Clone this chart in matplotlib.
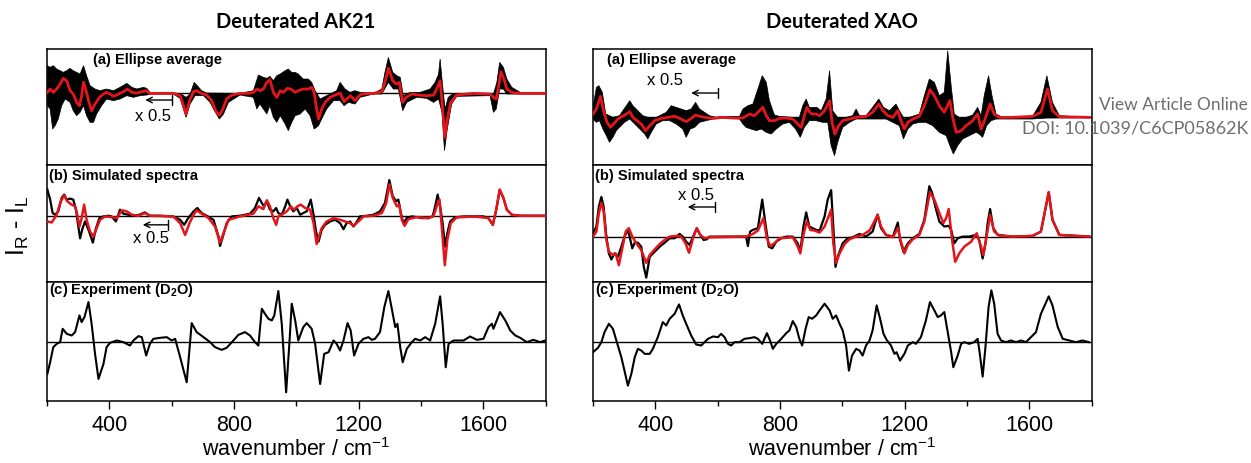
import matplotlib
import numpy as np

matplotlib.use("Agg")
import matplotlib.pyplot as plt
from matplotlib.ticker import MultipleLocator

plt.rcParams["font.family"] = ["Liberation Sans", "DejaVu Sans"]
plt.rcParams["mathtext.fontset"] = "custom"
plt.rcParams["mathtext.rm"] = "Liberation Sans"
plt.rcParams["mathtext.bf"] = "Liberation Sans:bold"

TITLE_FONT = ["Lato", "Liberation Sans"]
RED = "#e3151b"

# ---- Deuterated AK21 (wavenumber, intensity in arbitrary units) ----
ak21_ell_mean = [(201, 3), (210, 13), (220, 3), (231, 13), (242, 28), (252, 45), (263, 38), (274, 8), (284, -2),
                 (295, -27), (304, -37), (311, -7), (317, 33), (324, 13), (333, -22), (343, -52), (354, -32),
                 (368, -12), (381, -2), (391, 3), (402, -2), (413, -9), (429, -2), (445, 5), (458, 13), (472, 3),
                 (488, 1), (504, 5), (518, 8), (530, 0), (605, 0), (627, -7), (646, -62), (659, -17), (670, 5),
                 (680, 8), (693, 1), (712, -5), (728, -22), (742, -55), (753, -65), (764, -47), (776, -17),
                 (793, -5), (819, 0), (846, 0), (862, 3), (873, 13), (883, 8), (894, 13), (905, 33), (915, 41),
                 (926, 3), (937, -12), (948, 8), (958, 3), (971, 15), (982, 13), (996, 3), (1006, 8), (1022, 13),
                 (1038, 13), (1049, 18), (1057, 3), (1063, -37), (1071, -77), (1081, -47), (1092, -27),
                 (1108, -12), (1124, -5), (1140, 1), (1153, -25), (1164, -15), (1174, -7), (1188, -22),
                 (1199, -9), (1210, -2), (1247, 0), (1274, 5), (1284, 33), (1295, 75), (1309, 38), (1320, 28),
                 (1330, 33), (1341, -27), (1352, -12), (1370, -2), (1391, -5), (1418, -7), (1440, -5), (1450, 13),
                 (1461, 38), (1469, -47), (1476, -132), (1484, -77), (1495, -27), (1514, -5), (1568, 0),
                 (1621, -2), (1632, -12), (1641, -17), (1649, 23), (1656, 65), (1666, 43), (1675, 13), (1691, 3),
                 (1718, 0), (1798, 0)]
ak21_ell_hi = [(201, 83), (210, 78), (220, 83), (231, 73), (242, 68), (252, 63), (263, 68), (274, 75), (284, 68),
               (295, 63), (306, 58), (317, 83), (327, 53), (338, 23), (354, 13), (370, 8), (391, 13), (413, 8),
               (434, 18), (456, 30), (472, 18), (488, 13), (509, 18), (520, 15), (530, 3), (605, 1), (627, 0),
               (646, -12), (659, -2), (672, 33), (682, 23), (696, 8), (712, 1), (819, 0), (862, 8), (878, 55),
               (894, 48), (905, 45), (915, 51), (926, 38), (937, 53), (948, 58), (964, 68), (974, 73), (985, 63),
               (996, 63), (1006, 58), (1022, 43), (1038, 43), (1049, 33), (1060, 8), (1076, -17), (1097, -7),
               (1129, 8), (1140, 33), (1156, 13), (1172, 3), (1188, 8), (1204, 3), (1247, 0), (1274, 13),
               (1284, 63), (1295, 108), (1309, 63), (1322, 53), (1333, 48), (1343, -7), (1365, 3), (1397, 3),
               (1429, 13), (1445, 33), (1456, 58), (1461, 103), (1469, 23), (1477, -47), (1487, -12), (1504, 0),
               (1621, 0), (1632, -2), (1643, 33), (1652, 93), (1664, 78), (1675, 43), (1691, 18), (1718, 3),
               (1798, 0)]
ak21_ell_lo = [(201, -37), (210, -47), (218, -107), (226, -97), (236, -77), (247, -37), (258, -17), (274, -27),
               (284, -52), (295, -67), (306, -57), (317, -37), (327, -67), (338, -87), (349, -87), (359, -62),
               (375, -37), (391, -17), (413, -22), (434, -17), (456, -7), (477, -12), (498, -7), (520, -5),
               (530, -2), (605, -2), (627, -15), (646, -72), (659, -32), (675, -7), (702, -7), (723, -27),
               (734, -47), (753, -77), (766, -62), (782, -27), (819, -5), (862, -12), (873, -47), (883, -32),
               (894, -47), (905, -62), (915, -37), (926, -72), (937, -87), (948, -67), (964, -92), (974, -112),
               (985, -87), (996, -67), (1012, -62), (1028, -47), (1044, -67), (1057, -107), (1071, -97),
               (1081, -77), (1097, -47), (1119, -22), (1140, -22), (1153, -37), (1167, -27), (1188, -32),
               (1204, -12), (1247, -2), (1274, -2), (1295, 33), (1311, 13), (1327, 13), (1341, -52), (1354, -27),
               (1386, -12), (1418, -15), (1440, -27), (1456, -17), (1467, -57), (1475, -172), (1484, -107),
               (1498, -32), (1514, -9), (1621, -7), (1632, -57), (1641, -47), (1652, 13), (1664, 13), (1675, -2),
               (1718, -2), (1798, -2)]
ak21_sim_calc = [(201, 78), (210, 48), (218, 8), (226, 3), (236, 13), (247, 53), (255, 63), (263, 48), (274, 51),
                 (284, 48), (293, 18), (298, -17), (306, -67), (314, -37), (322, -17), (333, -42), (347, -80),
                 (357, -37), (368, -7), (381, -2), (397, 0), (407, -2), (421, -17), (434, 18), (445, 6), (461, 3),
                 (477, 0), (493, 2), (514, 10), (530, 0), (563, 0), (605, -2), (627, -12), (640, -27), (653, -7),
                 (670, 13), (682, 23), (696, 8), (712, 0), (734, -12), (750, -62), (755, -90), (764, -62),
                 (776, -22), (793, -2), (819, 0), (851, 6), (867, 23), (880, 53), (889, 38), (896, 28), (905, 43),
                 (915, 18), (926, 13), (935, 23), (942, 8), (953, 3), (964, 28), (971, 48), (980, 28), (990, 13),
                 (1001, 23), (1012, 3), (1022, 8), (1033, 13), (1046, 48), (1055, 3), (1063, -47), (1071, -77),
                 (1081, -42), (1092, -27), (1108, -17), (1124, -12), (1140, -22), (1151, -40), (1161, -22),
                 (1172, -17), (1183, -32), (1194, -17), (1204, -2), (1226, 0), (1247, 3), (1268, 13), (1284, 38),
                 (1298, 106), (1309, 58), (1320, 43), (1327, 48), (1335, 8), (1343, -22), (1354, -7), (1370, -2),
                 (1386, -4), (1402, -7), (1424, -7), (1437, -2), (1445, 28), (1453, 63), (1461, 28), (1469, -22),
                 (1477, -92), (1484, -52), (1493, -17), (1509, -5), (1536, -2), (1568, -2), (1600, -2),
                 (1616, -7), (1630, -27), (1641, 18), (1652, 76), (1664, 53), (1675, 18), (1691, 3), (1718, 0),
                 (1798, 0)]
ak21_sim_red = [(201, -17), (215, -20), (231, 3), (244, 43), (255, 60), (265, 43), (279, 33), (290, 28), (297, 3),
                (304, -32), (311, -7), (319, 33), (327, -12), (338, -47), (349, -62), (359, -37), (370, -12),
                (386, -2), (407, -4), (424, -7), (440, 16), (456, 13), (472, 3), (493, 0), (514, 8), (530, 0),
                (605, -2), (627, -22), (643, -57), (657, -22), (670, 3), (680, 16), (696, 6), (718, -7),
                (739, -32), (755, -80), (766, -52), (782, -12), (819, -2), (862, 6), (878, 28), (894, 20),
                (905, 46), (915, 28), (926, -7), (935, -27), (942, -2), (953, 3), (969, 13), (982, 28), (992, 18),
                (1003, 28), (1014, 33), (1028, 23), (1044, 18), (1055, -22), (1065, -84), (1081, -37),
                (1097, -17), (1119, -7), (1140, -12), (1156, -17), (1172, -22), (1183, -30), (1199, -17),
                (1215, -2), (1247, 0), (1274, 8), (1288, 38), (1298, 93), (1309, 53), (1322, 28), (1330, 33),
                (1338, -12), (1347, -30), (1359, -10), (1386, -4), (1424, -7), (1440, 0), (1450, 28), (1459, 48),
                (1467, -42), (1476, -147), (1484, -72), (1495, -22), (1514, -5), (1568, -2), (1616, -7),
                (1630, -27), (1641, 18), (1652, 78), (1664, 53), (1675, 18), (1691, 3), (1718, 0), (1798, 0)]
ak21_exp = [(201, -97), (210, -62), (220, -17), (231, -7), (242, -2), (250, 38), (263, 23), (279, 18), (290, 28),
            (304, 78), (311, 58), (320, 73), (333, 118), (343, 53), (354, -37), (365, -112), (381, -67),
            (391, -17), (402, -4), (424, 3), (445, -2), (466, -12), (477, 3), (493, 16), (504, 13), (518, -42),
            (530, -7), (541, 8), (563, 11), (584, 13), (600, 3), (611, 8), (627, -47), (648, -122), (664, 55),
            (680, 28), (702, 13), (723, -2), (739, -17), (760, -25), (776, -19), (793, -2), (814, 20), (835, 28),
            (851, 18), (867, -2), (878, -12), (889, 98), (899, 83), (910, 68), (921, 63), (929, 78), (942, 151),
            (953, 53), (967, -152), (978, 3), (985, 113), (996, 63), (1006, 3), (1022, 43), (1033, 55),
            (1049, 38), (1060, -7), (1076, -127), (1089, -37), (1103, -32), (1119, 3), (1129, -7), (1140, -27),
            (1151, 3), (1164, 55), (1174, 33), (1185, -42), (1199, -7), (1215, 8), (1231, 13), (1242, 5),
            (1252, 8), (1268, 28), (1282, 103), (1295, 151), (1309, 83), (1317, 43), (1324, 53), (1333, -17),
            (1341, -62), (1354, -22), (1370, -2), (1381, 8), (1397, 3), (1413, 13), (1429, 3), (1445, 53),
            (1461, 135), (1469, 53), (1479, -77), (1488, -7), (1504, 3), (1536, 3), (1557, 15), (1579, 5),
            (1600, 8), (1616, 43), (1627, 53), (1632, 38), (1653, 88), (1670, 63), (1686, 33), (1702, 18),
            (1718, 11), (1739, -2), (1760, 5), (1782, -2), (1798, 3)]

# ---- Deuterated XAO ----
xao_ell_mean = [(200, 10), (211, 25), (224, 63), (234, 20), (245, -15), (256, -30), (266, -20), (280, -5), (294, 3),
                (307, 10), (318, 17), (328, 0), (341, -10), (355, -20), (369, -40), (382, -25), (398, -10),
                (419, -3), (440, 0), (462, 3), (478, -3), (499, -13), (515, -3), (529, 7), (542, 3), (558, 0),
                (585, -3), (617, 0), (649, -2), (681, -2), (702, 10), (718, 5), (734, 20), (745, 30), (756, 5),
                (766, -10), (782, -10), (798, -3), (820, -2), (841, -5), (857, -20), (868, -30), (878, 5),
                (886, 30), (897, 13), (905, 10), (916, 10), (927, 5), (943, 20), (959, 50), (967, -15), (976, -50),
                (988, -25), (1001, -10), (1023, -5), (1044, 0), (1076, 3), (1097, 15), (1117, 40), (1130, 20),
                (1146, 5), (1162, 0), (1178, 20), (1188, -10), (1199, -35), (1210, -15), (1226, -5), (1247, 3),
                (1263, 35), (1281, 83), (1295, 65), (1311, 35), (1327, 15), (1345, 50), (1354, 0), (1365, -45),
                (1381, -40), (1397, -25), (1418, -10), (1434, 10), (1445, -35), (1452, -20), (1463, 10),
                (1474, 40), (1487, 10), (1503, 0), (1546, 0), (1610, 3), (1637, 15), (1658, 85), (1674, 20),
                (1696, 2), (1792, 0)]
xao_ell_hi = [(200, 30), (211, 90), (219, 95), (230, 75), (241, 10), (253, 5), (264, 0), (285, 5), (307, 35),
              (318, 50), (328, 35), (344, 20), (360, 5), (376, 0), (403, 0), (435, 15), (451, 35), (467, 30),
              (483, 25), (499, 20), (515, 25), (529, 45), (542, 25), (558, 15), (574, 5), (595, 0), (617, 3),
              (670, 3), (681, 25), (697, 35), (713, 40), (729, 85), (743, 125), (756, 105), (766, 50), (782, 7),
              (798, 3), (841, 0), (862, 0), (873, 35), (884, 55), (894, 30), (905, 30), (918, 30), (932, 20),
              (948, 55), (959, 140), (969, 20), (985, 0), (1012, 0), (1033, 5), (1044, 25), (1055, 5), (1076, 5),
              (1097, 30), (1117, 55), (1132, 30), (1151, 20), (1172, 40), (1183, 20), (1199, -5), (1215, 0),
              (1247, 10), (1263, 65), (1279, 115), (1295, 105), (1311, 65), (1327, 75), (1338, 200), (1349, 95),
              (1359, 10), (1375, 0), (1397, 0), (1418, 7), (1434, 30), (1445, 5), (1455, 65), (1469, 125),
              (1480, 65), (1493, 10), (1514, 0), (1610, 3), (1637, 45), (1656, 125), (1674, 45), (1696, 5),
              (1792, 0)]
xao_ell_lo = [(200, -5), (211, -15), (221, -10), (232, -35), (243, -55), (253, -75), (264, -60), (275, -40),
              (285, -30), (301, -15), (318, -5), (334, -20), (350, -35), (366, -50), (376, -65), (387, -45),
              (403, -20), (424, -10), (446, -10), (467, -20), (488, -35), (499, -60), (512, -35), (526, -30),
              (542, -15), (563, -10), (585, -5), (617, -2), (670, -5), (681, -20), (691, -30), (707, -35),
              (724, -40), (740, -35), (756, -45), (772, -50), (788, -35), (809, -20), (830, -15), (850, -35),
              (865, -60), (878, -30), (894, -10), (916, -10), (937, -15), (953, -15), (964, -85), (975, -115),
              (985, -75), (1001, -30), (1023, -15), (1044, -5), (1097, -5), (1140, -5), (1162, -15), (1183, -25),
              (1196, -65), (1210, -35), (1226, -20), (1247, -15), (1268, -15), (1290, -25), (1311, -45),
              (1333, -55), (1345, -85), (1356, -110), (1370, -85), (1386, -65), (1407, -55), (1429, -45),
              (1439, -50), (1450, -60), (1463, -25), (1477, -10), (1493, -5), (1610, -5), (1653, -2), (1792, -1)]
xao_sim_calc = [(200, 10), (211, 30), (219, 90), (227, 118), (234, 90), (243, 0), (251, -50), (259, -68),
                (269, -50), (280, -60), (291, -30), (301, 0), (312, 20), (320, -10), (326, -35), (334, -18),
                (344, -18), (355, -30), (363, -90), (371, -122), (382, -60), (398, -45), (414, -30), (430, -18),
                (446, -5), (462, -5), (478, 8), (488, 0), (499, -15), (510, -25), (521, 0), (533, 25), (544, 5),
                (555, -10), (565, -8), (574, 0), (691, 0), (697, -28), (704, 15), (713, 20), (729, 25), (743, 110),
                (753, 40), (764, -30), (775, -35), (788, -15), (804, -5), (820, 0), (841, 0), (857, -20),
                (865, -45), (875, 30), (884, 72), (894, 30), (905, 25), (916, 20), (927, 18), (943, 60),
                (953, 110), (964, 138), (971, 30), (978, -90), (985, -60), (1001, -20), (1017, -5), (1033, -2),
                (1055, 8), (1076, 0), (1097, 15), (1113, 65), (1124, 25), (1140, 5), (1162, 0), (1178, 42),
                (1185, -10), (1196, -45), (1210, -20), (1226, -5), (1247, 8), (1263, 50), (1279, 150), (1288, 130),
                (1298, 90), (1311, 45), (1327, 30), (1341, 32), (1349, 20), (1359, -20), (1370, -5), (1386, 0),
                (1407, 0), (1429, 5), (1439, -10), (1450, -65), (1459, -20), (1466, 40), (1474, 82), (1484, 25),
                (1498, 5), (1546, 0), (1610, 2), (1637, 15), (1662, 132), (1674, 50), (1696, 5), (1792, 0)]
xao_sim_red = [(200, 0), (211, 15), (219, 70), (227, 100), (234, 75), (243, -10), (251, -45), (264, -55),
               (273, -50), (283, -85), (294, -35), (305, 15), (315, 25), (326, 0), (339, -20), (355, -40),
               (371, -78), (382, -55), (398, -38), (414, -22), (430, -10), (446, 0), (467, 2), (483, 0), (497, -20),
               (508, -48), (521, -5), (533, 25), (544, 5), (558, -5), (574, -2), (691, 0), (713, 8), (729, 18),
               (747, 55), (758, -5), (768, -28), (782, -20), (798, -5), (841, -2), (857, -30), (865, -50), (875, 5),
               (886, 45), (897, 20), (910, 18), (927, 12), (943, 30), (956, 60), (964, 80), (971, -20), (980, -78),
               (991, -50), (1007, -22), (1023, -8), (1044, 0), (1065, 5), (1087, 18), (1100, 40), (1113, 65),
               (1124, 30), (1140, 5), (1162, -2), (1178, 25), (1185, -5), (1199, -50), (1210, -25), (1226, -8),
               (1247, 5), (1263, 45), (1281, 132), (1295, 110), (1311, 70), (1324, 40), (1333, 55), (1341, 82),
               (1352, -10), (1362, -75), (1375, -50), (1391, -30), (1413, -15), (1431, 10), (1445, -30),
               (1452, -55), (1461, -10), (1474, 65), (1487, 15), (1503, 3), (1546, 0), (1610, 2), (1637, 15),
               (1662, 132), (1674, 50), (1696, 5), (1792, 0)]
xao_exp = [(200, -32), (216, -19), (227, -2), (237, 28), (251, 53), (264, 38), (275, 3), (291, -47), (301, -87),
           (312, -132), (323, -97), (334, -47), (344, -22), (355, -27), (366, -37), (382, -37), (392, -22),
           (408, 13), (424, 58), (435, 48), (446, 68), (462, 83), (476, 111), (488, 78), (499, 53), (515, 18),
           (531, -9), (547, -12), (558, -2), (569, 8), (585, 15), (601, 13), (611, 23), (622, 13), (633, -7),
           (643, -12), (654, -2), (670, -2), (686, 8), (702, 10), (718, 13), (729, 8), (743, -7), (758, 25),
           (768, 3), (777, -22), (788, -7), (804, 8), (820, 25), (830, 33), (841, 61), (852, 43), (862, 8),
           (871, -12), (882, 38), (892, 73), (903, 68), (916, 78), (927, 93), (943, 113), (959, 93), (969, 68),
           (980, 78), (991, 53), (1001, 33), (1012, -12), (1021, -87), (1031, -42), (1044, -22), (1055, -27),
           (1065, -42), (1076, -12), (1087, 3), (1097, 33), (1110, 108), (1121, 68), (1132, 23), (1142, 5),
           (1156, -12), (1167, -37), (1174, -32), (1185, -57), (1199, -37), (1210, -12), (1226, -2), (1236, -7),
           (1252, 13), (1268, 63), (1281, 118), (1295, 93), (1306, 73), (1316, 78), (1327, 88), (1338, 28),
           (1349, -32), (1356, -77), (1370, -42), (1381, -7), (1391, -2), (1407, -7), (1423, -2), (1434, 8),
           (1441, -37), (1450, -105), (1459, -17), (1469, 103), (1478, 153), (1487, 113), (1498, 23), (1509, 3),
           (1525, -2), (1541, 3), (1557, -2), (1573, 3), (1589, -2), (1605, 13), (1621, 28), (1637, 83),
           (1662, 135), (1674, 108), (1691, 43), (1707, 8), (1728, 3), (1749, -2), (1770, 3), (1791, -2)]

tick_values = [400, 800, 1200, 1600]
column_titles = ["Deuterated AK21", "Deuterated XAO"]
panel_labels = ["(a) Ellipse average", "(b) Simulated spectra", r"(c) Experiment (D$_\mathbf{2}$O)"]


def unzip(pairs):
    arr = np.array(pairs, dtype=float)
    return arr[:, 0], arr[:, 1]


def style_axis(ax, ylim, bottom):
    ax.set_xlim(200, 1800)
    ax.set_ylim(*ylim)
    ax.set_yticks([])
    ax.axhline(0, color="black", lw=1.0, zorder=1.5)
    for spine in ax.spines.values():
        spine.set_linewidth(1.1)
    if bottom:
        ax.set_xticks(tick_values)
        ax.xaxis.set_minor_locator(MultipleLocator(200))
        ax.tick_params(axis="x", which="major", direction="out", length=6, width=1, pad=3, labelsize=15.5)
        ax.tick_params(axis="x", which="minor", direction="out", length=3.8, width=1)
        ax.set_xlabel(r"wavenumber / cm$^\mathregular{-1}$", fontsize=15.5, labelpad=2)
    else:
        ax.tick_params(axis="x", which="both", bottom=False, labelbottom=False)


def draw_scale_note(ax, text_xy, arrow_from, arrow_to):
    ax.text(*text_xy, "x 0.5", ha="center", va="center", fontsize=12)
    ax.annotate("", xy=arrow_to, xytext=arrow_from,
                arrowprops=dict(arrowstyle="]->,widthA=0.35,lengthA=0",
                                lw=1, color="black", shrinkA=0, shrinkB=0))


def draw_column(fig, left, ell, sim, exp, ylims, notes):
    width = 0.3987
    rows = [(0.6422, 0.25), (0.3901, 0.2522), (0.1336, 0.2565)]
    axes = [fig.add_axes([left, y0, width, h]) for y0, h in rows]
    for i, ax in enumerate(axes):
        style_axis(ax, ylims[i], bottom=(i == 2))

    mean, hi, lo = ell
    hx, hy = unzip(hi)
    lx, ly = unzip(lo)
    axes[0].fill(np.r_[hx, lx[::-1]], np.r_[hy, ly[::-1]], color="black", lw=0.5, zorder=2)
    axes[0].plot(*unzip(mean), color=RED, lw=2.0, zorder=3)

    calc, red = sim
    axes[1].plot(*unzip(calc), color="black", lw=1.6, zorder=2)
    axes[1].plot(*unzip(red), color=RED, lw=1.8, zorder=3)

    axes[2].plot(*unzip(exp), color="black", lw=1.5, zorder=2)

    for ax, note in zip(axes[:2], notes):
        draw_scale_note(ax, *note)
    return axes


fig = plt.figure(figsize=(12.51, 4.64), dpi=100)

left_axes = draw_column(
    fig, 0.0376,
    (ak21_ell_mean, ak21_ell_hi, ak21_ell_lo), (ak21_sim_calc, ak21_sim_red), ak21_exp,
    [(-215, 133), (-197, 151), (-178, 178)],
    [((541, -65), (600, -20), (515, -20)), ((533, -65), (589, -27), (507, -27))],
)
right_axes = draw_column(
    fig, 0.474,
    (xao_ell_mean, xao_ell_hi, xao_ell_lo), (xao_sim_calc, xao_sim_red), xao_exp,
    [(-143, 205), (-135, 213), (-178, 178)],
    [((432, 113), (601, 73), (515, 73)), ((531, 125), (590, 88), (504, 88))],
)

label_pos = {0: [(0.092, 0.914), (0.028, 0.914)], 1: [(0.004, 0.915), (0.005, 0.915)],
             2: [(0.004, 0.94), (0.005, 0.94)]}
for row in range(3):
    for col, axes in enumerate([left_axes, right_axes]):
        x, y = label_pos[row][col]
        axes[row].text(x, y, panel_labels[row], transform=axes[row].transAxes, ha="left", va="center",
                       fontsize=10.5, fontweight="bold")

fig.text(0.2366, 0.9526, column_titles[0], ha="center", va="center", fontsize=14.5, fontweight="bold",
         family=TITLE_FONT)
fig.text(0.673, 0.9526, column_titles[1], ha="center", va="center", fontsize=14.5, fontweight="bold",
         family=TITLE_FONT)
fig.text(0.0144, 0.513, r"I$_\mathregular{R}$ - I$_\mathregular{L}$", rotation=90, ha="center", va="center",
         fontsize=18)

fig.text(0.9976, 0.774, "View Article Online", ha="right", va="center", fontsize=12.5, color="#6e6e6e",
         family=["Lato", "DejaVu Sans"])
fig.text(0.9976, 0.724, "DOI: 10.1039/C6CP05862K", ha="right", va="center", fontsize=13, color="#6e6e6e",
         family=["Lato", "DejaVu Sans"])

fig.savefig("out.png", dpi=100)
plt.close(fig)
